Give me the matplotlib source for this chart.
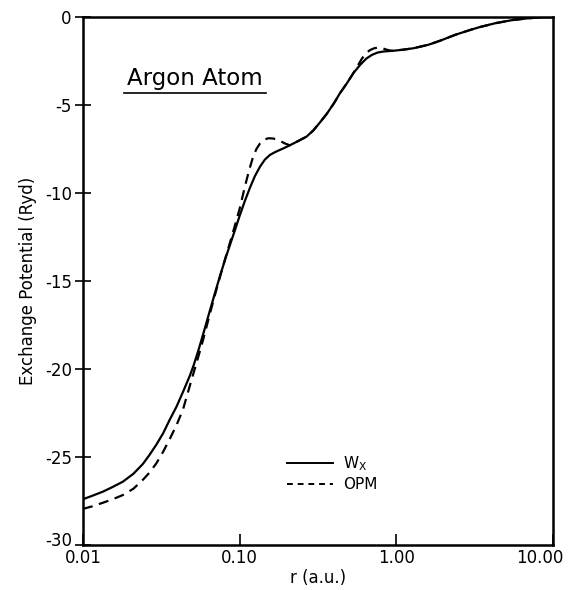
import matplotlib
matplotlib.use("Agg")
import matplotlib.pyplot as plt
import matplotlib.transforms as mtransforms
from matplotlib.lines import Line2D

plt.rcParams['font.family'] = ['DejaVu Sans']
plt.rcParams['axes.unicode_minus'] = False

# W_x curve
r_wx = [0.01, 0.0115, 0.0134, 0.0155, 0.018, 0.021, 0.0241, 0.0265, 0.0294, 0.0325,
        0.0357, 0.0395, 0.0435, 0.048, 0.0506, 0.0545, 0.0586, 0.064, 0.0695, 0.075,
        0.082, 0.0889, 0.095, 0.1, 0.108, 0.1164, 0.125, 0.135, 0.145, 0.156,
        0.168, 0.181, 0.195, 0.209, 0.235, 0.267, 0.295, 0.325, 0.36, 0.4,
        0.436, 0.485, 0.531, 0.59, 0.646, 0.7, 0.76, 0.83, 0.955, 1.1,
        1.28, 1.6, 1.9, 2.4, 3.0, 3.42, 4.3, 5.55, 7.0, 8.5, 10.0]
v_wx = [-27.4, -27.2, -26.97, -26.7, -26.4, -25.95, -25.4, -24.9, -24.3, -23.65,
        -22.9, -22.15, -21.3, -20.4, -19.85, -18.95, -18.0, -16.8, -15.7, -14.7,
        -13.6, -12.67, -11.9, -11.3, -10.45, -9.7, -9.05, -8.5, -8.1, -7.84,
        -7.68, -7.55, -7.42, -7.29, -7.06, -6.8, -6.45, -6.0, -5.5, -4.9,
        -4.34, -3.75, -3.2, -2.7, -2.35, -2.15, -2.02, -1.96, -1.92, -1.86,
        -1.78, -1.58, -1.35, -1.0, -0.72, -0.57, -0.35, -0.17, -0.07, -0.02, 0.0]

# OPM curve
r_opm = [0.01, 0.0115, 0.0134, 0.0155, 0.018, 0.021, 0.0241, 0.0265, 0.0294, 0.0325,
         0.0357, 0.0395, 0.0435, 0.049, 0.0545, 0.0586, 0.064, 0.0695, 0.075, 0.082,
         0.0889, 0.095, 0.1, 0.108, 0.115, 0.122, 0.128, 0.135, 0.143, 0.152,
         0.162, 0.172, 0.183, 0.194, 0.209, 0.235, 0.267, 0.295, 0.325, 0.36,
         0.4, 0.436, 0.485, 0.531, 0.56, 0.6, 0.64, 0.68, 0.72, 0.76,
         0.81, 0.87, 0.92, 0.955, 1.1, 1.28, 1.6, 1.9, 2.4, 3.0,
         3.42, 4.3, 5.55, 7.0, 8.5, 10.0]
v_opm = [-27.95, -27.8, -27.6, -27.4, -27.16, -26.8, -26.3, -25.9, -25.36, -24.7,
         -24.0, -23.2, -22.3, -20.7, -19.3, -18.3, -17.0, -15.8, -14.75, -13.55,
         -12.5, -11.6, -10.9, -9.64, -8.7, -7.93, -7.5, -7.18, -6.98, -6.89,
         -6.9, -6.95, -7.06, -7.18, -7.29, -7.06, -6.8, -6.45, -6.0, -5.5,
         -4.9, -4.34, -3.75, -3.2, -2.85, -2.4, -2.05, -1.88, -1.78, -1.74,
         -1.77, -1.86, -1.91, -1.92, -1.86, -1.78, -1.58, -1.35, -1.0, -0.72,
         -0.57, -0.35, -0.17, -0.07, -0.02, 0.0]

xticks = [0.01, 0.1, 1.0, 10.0]
xlabels = ["0.01", "0.10", "1.00", "10.00"]
yticks = [0, -5, -10, -15, -20, -25, -30]

fig = plt.figure(figsize=(5.75, 5.9), dpi=100)
ax = fig.add_axes([0.1443, 0.0763, 0.8174, 0.8949])

ax.plot(r_wx, v_wx, color='black', lw=1.6, solid_joinstyle='round')
ax.plot(r_opm, v_opm, color='black', lw=1.6, dashes=(4.5, 3))

ax.set_xscale('log')
ax.set_xlim(0.01, 10)
ax.set_ylim(-30, 0)
ax.set_xticks(xticks)
ax.set_xticklabels(xlabels)
ax.minorticks_off()
ax.set_yticks(yticks)
ax.set_yticklabels([str(t) for t in yticks])

ax.tick_params(axis='x', direction='in', length=8, width=1.2, labelsize=12, pad=3)
ax.tick_params(axis='y', direction='inout', length=12, width=1.2, labelsize=12, pad=2)
for s in ax.spines.values():
    s.set_linewidth(1.8)

# nudge the corner labels like in the original
lab = ax.get_xticklabels()[-1]
lab.set_transform(lab.get_transform() + mtransforms.ScaledTranslation(-0.13, 0, fig.dpi_scale_trans))
lab = ax.get_yticklabels()[-1]
lab.set_transform(lab.get_transform() + mtransforms.ScaledTranslation(0, 0.06, fig.dpi_scale_trans))

ax.set_xlabel("r (a.u.)", fontsize=12, labelpad=1)
ax.set_ylabel("Exchange Potential (Ryd)", fontsize=12, labelpad=6)

ax.text(0.238, 0.884, "Argon Atom", transform=ax.transAxes, fontsize=16.5,
        ha='center', va='center')
ax.plot([0.087, 0.389], [0.856, 0.856], transform=ax.transAxes, color='black', lw=1.2)

handles = [Line2D([], [], color='black', lw=1.4),
           Line2D([], [], color='black', lw=1.4, dashes=(3, 2.5))]
ax.legend(handles, [r"W$_\mathregular{X}$", "OPM"], loc='center left',
          bbox_to_anchor=(0.434, 0.136), frameon=False, fontsize=11,
          handlelength=3.0, handletextpad=0.65, labelspacing=0.3,
          borderpad=0, borderaxespad=0)

fig.savefig("out.png", dpi=100)
